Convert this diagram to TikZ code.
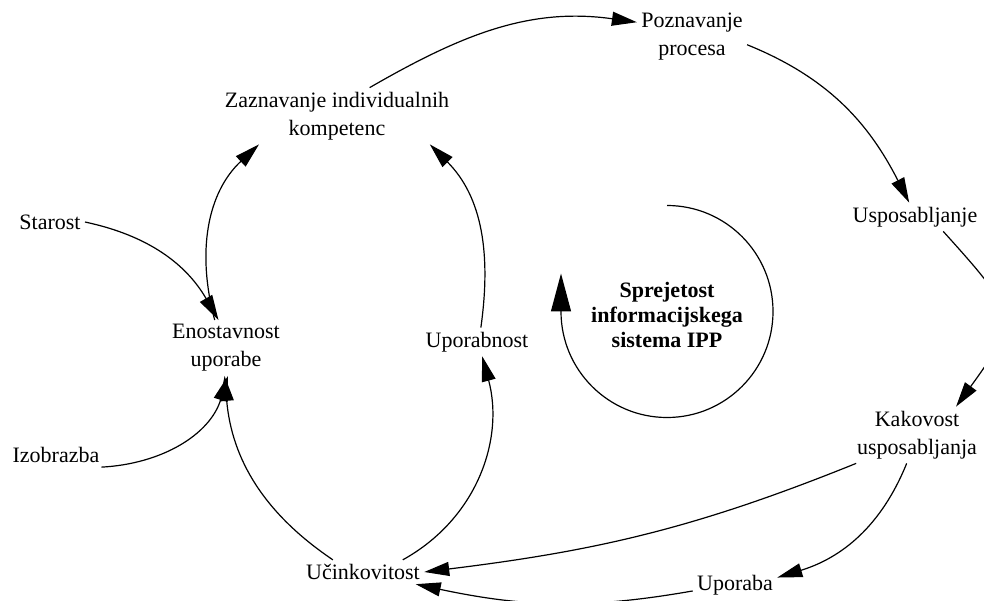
\documentclass[tikz,border=0pt]{standalone}
\usepackage{fontspec}
\setmainfont{Liberation Serif}
\usetikzlibrary{arrows.meta}

\begin{document}
\begin{tikzpicture}[x = 0.5pt, y = 0.5pt,
  var/.style = {align = center, inner sep = 2pt, font = \fontsize{11}{14}\selectfont},
  link/.style = {line width = 0.6pt, -{Triangle[length = 12.5pt, width = 7pt]}},
  loopline/.style = {line width = 0.6pt, -{Triangle[length = 19pt, width = 10pt]}}]
\useasboundingbox (0, 0) rectangle (984, 600);
\node [var] (poz) at (692, 563) {Poznavanje\\procesa};
\node [var] (zaz) at (337, 484) {Zaznavanje individualnih\\kompetenc};
\node [var] (usp) at (915, 383) {Usposabljanje};
\node [var] (sta) at (50, 378) {Starost};
\node [var] (eno) at (226, 252) {Enostavnost\\uporabe};
\node [var] (upn) at (477, 258) {Uporabnost};
\node [var, font = \fontsize{11}{12.5}\selectfont\bfseries] (spr) at (667, 285) {Sprejetost\\informacijskega\\sistema IPP};
\node [var] (izo) at (56, 145) {Izobrazba};
\node [var] (kak) at (917, 165) {Kakovost\\usposabljanja};
\node [var] (uci) at (363, 28) {Učinkovitost};
\node [var] (upr) at (735, 15) {Uporaba};
% loop symbol
\draw [loopline] (667, 394.5) arc [start angle = 90, end angle = -180, radius = 106] -- ++(0, 38);
% links
\draw [link] (zaz.41) to [out = 30, in = 172] (poz.165);
\draw [link] (poz.-8) to [out = -22, in = 117] (usp.112);
\draw [link] (usp.-27) to [out = -48, in = 54, looseness = 1.6] (kak.36);
\draw [link] (kak.205) to [out = 202, in = 7] (uci.east);
\draw [link] (kak.-110) to [out = -112, in = 17] (upr.10);
\draw [link] (upr.188) to [out = 190, in = -12] (uci.-13);
\draw [link] (uci.158) to [out = 146, in = -85] (eno.-93);
\draw [link] (uci.17) to [out = 29, in = -75] (upn.-70);
\draw [link] (izo.-15) to [out = 3, in = -107] (eno.-86);
\draw [link] (sta.east) to [out = -12, in = 120] (eno.105);
\draw [link] (eno.112) to [out = 105, in = -137] (zaz.200);
\draw [link] (upn.75) to [out = 82, in = -45] (zaz.-17);
\end{tikzpicture}
\end{document}
